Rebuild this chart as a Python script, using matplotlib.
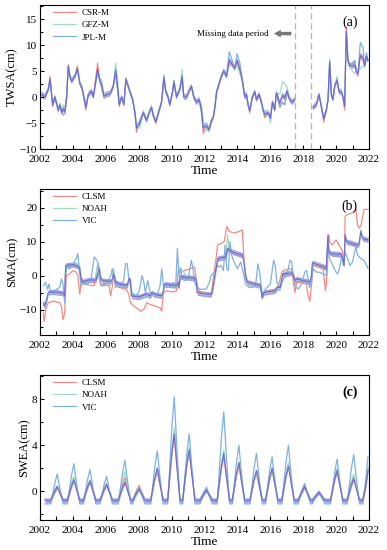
import numpy as np
import matplotlib
matplotlib.use("Agg")
import matplotlib.pyplot as plt
from matplotlib.ticker import MultipleLocator

plt.rcParams['font.family'] = ['Liberation Serif', 'DejaVu Serif']

# ---------------- Panel (a) TWSA ----------------
t_a = [2002.10, 2002.30, 2002.51, 2002.61, 2002.77, 2002.91, 2003.11, 2003.21, 2003.32, 2003.42,
       2003.52, 2003.62, 2003.72, 2003.82, 2003.92, 2004.13, 2004.27, 2004.43, 2004.53, 2004.63,
       2004.79, 2004.94, 2005.14, 2005.24, 2005.50, 2005.64, 2005.74, 2005.89, 2006.05, 2006.25,
       2006.45, 2006.60, 2006.70, 2006.82, 2006.96, 2007.10, 2007.22, 2007.47, 2007.63, 2007.77,
       2007.87, 2008.07, 2008.28, 2008.48, 2008.64, 2008.78, 2008.88, 2009.04, 2009.25, 2009.39,
       2009.53, 2009.65, 2009.79, 2009.89, 2010.06, 2010.14, 2010.30, 2010.50, 2010.64, 2010.74,
       2010.91, 2011.11, 2011.21, 2011.35, 2011.51, 2011.68, 2011.82, 2011.92, 2012.12, 2012.28,
       2012.43, 2012.53, 2012.63, 2012.73, 2012.83, 2013.03, 2013.17, 2013.34, 2013.50, 2013.64,
       2013.84, 2013.98, 2014.15, 2014.31, 2014.45, 2014.55, 2014.65, 2014.75, 2014.91, 2015.06,
       2015.16, 2015.32, 2015.46, 2015.56, 2015.66, 2015.87, 2016.01, 2016.13, 2016.27, 2016.37,
       2016.58, 2016.74, 2016.88, 2017.02, 2017.18, 2017.34, 2017.49, 2018.00, 2018.60, 2018.80,
       2018.96, 2019.11, 2019.25, 2019.41, 2019.51, 2019.61, 2019.71, 2019.81, 2019.91, 2020.06,
       2020.18, 2020.32, 2020.42, 2020.52, 2020.62, 2020.72, 2020.83, 2020.99, 2021.13, 2021.23,
       2021.33, 2021.47, 2021.64, 2021.74, 2021.84, 2021.94]
nan = np.nan
csr_m = [0.5, 0.0, 1.5, 4.0, -1.8, 0.0, -2.5, -1.5, -3.2, -2.0,
         -3.2, 0.0, 6.2, 4.0, 3.0, 4.0, 6.0, 2.5, 2.0, 0.5,
         -2.5, 0.5, 1.2, 0.0, 6.5, 3.0, 1.8, 0.0, 0.5, 0.5,
         2.0, 4.5, 1.8, -1.8, 0.0, -1.5, 3.6, 1.0, -0.5, -3.0,
         -6.8, -4.5, -3.0, -4.5, -3.0, -2.0, -3.5, -5.0, -2.5, -1.0,
         3.8, 1.0, 0.0, -1.5, 1.0, 3.0, 0.0, 1.5, 3.5, 0.0,
         0.0, 1.5, 2.2, 0.0, -1.0, -0.5, -3.0, -7.0, -5.5, -6.2,
         -4.5, -4.0, -2.0, 1.0, 2.0, 4.0, 5.0, 4.0, 6.5, 6.0,
         5.5, 6.8, 5.0, 3.0, 0.0, 0.5, -1.5, -3.0, 0.0, 1.0,
         -0.5, 0.5, -1.0, -2.5, -4.0, -3.0, -3.5, -1.0, -2.5, 0.8,
         -2.0, -1.0, -1.5, 0.8, -0.5, -1.0, -0.5, nan, -2.0, -1.5,
         0.5, -2.0, -4.8, -2.5, -0.5, 6.5, 0.5, -0.5, 2.0, 3.0,
         1.0, 1.0, 0.0, -2.5, 13.5, 7.0, 6.0, 6.5, 7.0, 5.0,
         4.0, 8.0, 7.0, 6.0, 7.5, 7.0]
gfz_m = [0.5, 0.0, 1.5, 3.0, -1.2, 0.0, -2.2, -1.5, -2.5, -1.5,
         -2.0, 0.0, 5.5, 4.0, 3.2, 4.0, 5.0, 2.5, 2.0, 0.8,
         -1.5, 0.5, 1.0, 0.0, 4.5, 3.5, 3.5, 0.5, 0.5, 0.8,
         2.0, 6.5, 4.0, -1.0, 0.0, -1.2, 3.2, 1.0, -0.5, -2.8,
         -5.0, -6.0, -3.0, -4.5, -3.0, -2.0, -3.5, -4.5, -2.5, -1.0,
         3.0, 1.0, 0.0, -1.5, 1.0, 2.5, 0.0, 1.5, 5.3, 0.0,
         0.0, 1.5, 1.8, 0.0, -1.0, -0.5, -1.5, -4.5, -6.5, -6.0,
         -4.5, -4.0, -2.0, 0.5, 2.0, 4.0, 5.0, 4.0, 6.0, 6.0,
         5.5, 6.0, 4.5, 3.0, 0.0, 0.5, -1.5, -2.5, 0.0, 1.0,
         -0.5, 0.5, -1.0, -2.5, -2.5, -3.0, -5.0, -1.0, -2.5, 0.8,
         0.5, 3.0, 2.5, 2.0, -0.5, -1.0, -0.5, nan, -2.0, -1.5,
         0.5, -2.0, -3.8, -2.5, -0.5, 7.5, 0.5, -0.5, 2.0, 4.0,
         1.0, 1.0, 0.0, -1.5, 12.0, 7.0, 6.0, 5.0, 4.5, 5.0,
         5.0, 5.5, 6.0, 6.0, 7.5, 7.0]
jpl_m = [0.5, 0.0, 1.5, 3.5, -1.5, 0.0, -2.8, -1.5, -3.0, -3.5,
         -3.0, 0.0, 6.0, 4.0, 3.0, 4.0, 5.5, 2.5, 2.0, 0.5,
         -2.0, 0.5, 1.0, 0.0, 5.0, 3.0, 2.0, 0.0, 0.5, 0.5,
         2.0, 4.5, 2.0, -1.5, 0.0, -1.5, 3.5, 1.0, -0.5, -3.0,
         -6.0, -4.5, -3.0, -4.5, -3.0, -2.0, -3.5, -4.8, -2.5, -1.0,
         4.2, 1.0, 0.0, -1.5, 1.0, 3.2, 0.0, 1.5, 3.5, 0.0,
         0.0, 1.5, 2.0, 0.0, -1.0, -0.5, -3.0, -6.0, -5.0, -6.5,
         -4.5, -4.0, -2.0, 1.0, 2.0, 4.0, 5.0, 4.0, 8.7, 7.5,
         5.5, 8.3, 6.5, 3.0, 0.0, 0.5, -1.5, -2.5, 0.0, 1.0,
         -0.5, 0.5, -1.0, -2.5, -3.5, -3.0, -4.0, -1.0, -2.5, 0.8,
         -2.0, -1.0, -1.5, 0.8, -0.5, -1.0, -0.5, nan, -2.0, -1.5,
         0.5, -2.0, -4.0, -2.5, -0.5, 6.5, 0.5, -0.5, 2.0, 3.0,
         1.0, 1.0, 0.0, -1.5, 12.5, 7.0, 6.0, 6.5, 7.0, 5.0,
         4.5, 10.5, 9.5, 6.0, 8.5, 7.0]
twsa_unc = 0.6
missing_start, missing_end = 2017.52, 2018.50

# ---------------- Panel (b) SMA ----------------
t_ens_b = [2002.20, 2002.28, 2002.38, 2002.50, 2002.70, 2003.00, 2003.40, 2003.50, 2003.56, 2003.80,
           2004.00, 2004.30, 2004.42, 2004.50, 2004.60, 2004.80, 2005.00, 2005.40, 2005.50, 2005.60,
           2005.70, 2005.80, 2006.30, 2006.40, 2006.48, 2006.60, 2006.80, 2007.30, 2007.40, 2007.50,
           2007.56, 2008.00, 2008.50, 2008.70, 2008.80, 2008.90, 2009.40, 2009.50, 2009.56, 2010.00,
           2010.30, 2010.40, 2010.45, 2010.52, 2011.00, 2011.40, 2011.50, 2011.56, 2012.00, 2012.40,
           2012.50, 2012.60, 2012.70, 2012.80, 2013.00, 2013.30, 2013.40, 2013.50, 2013.70, 2014.00,
           2014.30, 2014.40, 2014.50, 2014.60, 2015.00, 2015.40, 2015.50, 2015.60, 2016.00, 2016.30,
           2016.40, 2016.60, 2016.70, 2016.76, 2017.00, 2017.30, 2017.40, 2017.50, 2017.60, 2018.00,
           2018.30, 2018.40, 2018.50, 2018.56, 2019.00, 2019.30, 2019.40, 2019.50, 2019.56, 2019.70,
           2020.30, 2020.40, 2020.48, 2020.55, 2020.62, 2021.00, 2021.30, 2021.40, 2021.50, 2021.60,
           2021.95]
ens_b = [-8.0, -9.0, -7.5, -5.0, -4.8, -4.9, -5.2, -6.0, 3.0, 3.1,
         3.3, 2.8, 2.0, -1.0, -2.0, -1.5, -1.3, -1.3, 0.5, 2.0,
         -1.0, -1.5, -1.8, -1.0, 0.5, -2.0, -2.5, -3.0, -1.0, -1.5,
         -6.0, -6.3, -5.5, -6.0, -5.0, -5.5, -6.0, -4.5, -2.5, -2.8,
         -3.0, -2.0, -3.5, -0.3, -0.6, -0.8, -1.5, -5.0, -5.4, -5.6,
         -4.0, -1.0, 2.0, 5.0, 5.2, 5.5, 8.0, 7.5, 7.0, 6.5,
         6.0, 4.0, 0.0, -2.0, -2.5, -3.0, -6.5, -5.0, -4.7, -4.5,
         -3.5, -3.5, -1.0, 0.5, 0.6, 0.8, 0.0, -1.5, -1.0, -1.5,
         -1.8, -2.0, 0.0, 3.8, 3.0, 2.5, 2.0, 12.0, 7.0, 6.5,
         6.2, 5.0, 3.0, 12.0, 10.0, 9.5, 9.0, 9.5, 13.0, 11.0,
         10.5]
noah = [-8.5, -9.5, -7.0, -5.5, -5.0, -5.0, -5.5, -6.5, 2.5, 3.0,
        3.5, 3.0, 2.0, -1.5, -2.5, -1.5, -1.5, -1.0, 3.5, 2.5,
        -1.0, -1.8, -2.0, -1.0, 2.0, -2.2, -2.8, -3.2, -1.0, -2.0,
        -6.2, -6.5, -5.8, -6.2, -5.0, -5.8, -6.2, -4.5, -2.5, -3.0,
        -3.2, -2.0, -3.8, 2.5, -0.8, -1.0, -1.5, -5.2, -5.6, -5.8,
        -4.0, -1.0, 2.5, 5.5, 5.0, 5.5, 12.0, 8.0, 7.2, 6.8,
        6.0, 4.0, 0.0, -2.2, -2.8, -3.2, -6.8, -5.2, -5.0, -4.6,
        -3.5, -3.8, -1.0, 0.8, 0.5, 1.0, 0.0, -1.8, -1.2, -1.5,
        -2.0, -2.2, 0.0, 4.0, 3.2, 2.5, 2.0, 11.0, 7.0, 6.8,
        6.0, 5.0, 3.0, 11.0, 10.0, 9.8, 9.2, 9.5, 13.5, 11.5,
        11.0]
t_clsm_b = [2002.20, 2002.26, 2002.35, 2002.50, 2002.80, 2003.20, 2003.30, 2003.40, 2003.50, 2003.60,
            2003.80, 2004.00, 2004.20, 2004.30, 2004.42, 2004.50, 2004.70, 2005.00, 2005.30, 2005.50,
            2005.60, 2005.70, 2006.00, 2006.20, 2006.30, 2006.40, 2006.48, 2006.60, 2006.80, 2007.20,
            2007.30, 2007.40, 2007.50, 2007.70, 2008.00, 2008.10, 2008.30, 2008.50, 2008.70, 2009.00,
            2009.30, 2009.40, 2009.50, 2009.70, 2010.00, 2010.30, 2010.40, 2010.60, 2010.80, 2011.10,
            2011.40, 2011.50, 2011.60, 2011.80, 2012.20, 2012.40, 2012.50, 2012.70, 2012.80, 2013.00,
            2013.20, 2013.35, 2013.50, 2013.80, 2014.10, 2014.30, 2014.40, 2014.50, 2014.60, 2015.00,
            2015.30, 2015.40, 2015.50, 2015.60, 2016.00, 2016.30, 2016.50, 2016.70, 2016.80, 2017.00,
            2017.30, 2017.40, 2017.50, 2017.60, 2017.80, 2018.20, 2018.30, 2018.40, 2018.50, 2018.60,
            2018.80, 2019.20, 2019.30, 2019.35, 2019.45, 2019.55, 2019.60, 2019.75, 2020.00, 2020.30,
            2020.40, 2020.50, 2020.55, 2020.70, 2021.00, 2021.20, 2021.30, 2021.40, 2021.50, 2021.60,
            2021.70, 2021.95]
clsm_b = [-11.0, -13.5, -10.0, -8.0, -7.5, -8.0, -9.0, -13.0, -11.0, 0.0,
          0.5, 1.5, 1.0, 0.0, -5.5, -2.0, -2.5, -2.8, -3.0, 3.0,
          1.0, -2.5, -2.8, -3.0, -6.0, -3.0, 1.5, -3.0, -3.5, -4.0,
          -4.5, -5.5, -8.0, -9.0, -10.0, -10.5, -10.0, -8.0, -8.5, -9.0,
          -9.5, -10.5, -5.0, -4.5, -4.8, -4.5, 1.5, 1.0, 1.5, 2.0,
          2.5, -1.0, -4.0, -5.0, -5.5, -6.0, -2.0, 5.0, 9.0, 9.5,
          10.0, 14.5, 13.0, 12.5, 13.0, 13.5, 5.0, -1.0, -2.0, -2.5,
          -3.0, -2.5, -6.0, -5.0, -4.5, -4.0, -3.0, 1.0, 1.5, 1.8,
          2.0, -2.0, -5.0, -2.0, -2.0, -2.5, -6.0, -7.5, -3.0, 3.0,
          3.0, 2.0, -2.0, -4.5, 0.0, 12.0, 10.0, 9.0, 10.5, 8.0,
          7.0, 3.0, 17.5, 18.0, 18.5, 19.5, 15.0, 14.0, 14.5, 17.0,
          19.5, 19.5]
t_vic_b = [2002.20, 2002.35, 2002.45, 2002.55, 2002.65, 2002.80, 2003.00, 2003.20, 2003.30, 2003.40,
           2003.50, 2003.55, 2003.65, 2003.80, 2004.00, 2004.20, 2004.30, 2004.40, 2004.50, 2004.60,
           2004.70, 2004.90, 2005.10, 2005.30, 2005.45, 2005.55, 2005.60, 2005.70, 2005.90, 2006.10,
           2006.30, 2006.40, 2006.50, 2006.60, 2006.80, 2006.90, 2007.10, 2007.20, 2007.30, 2007.40,
           2007.50, 2007.60, 2007.80, 2008.00, 2008.10, 2008.20, 2008.30, 2008.40, 2008.55, 2008.70,
           2008.90, 2009.10, 2009.30, 2009.40, 2009.50, 2009.70, 2009.90, 2010.10, 2010.25, 2010.35,
           2010.45, 2010.55, 2010.65, 2010.80, 2011.00, 2011.20, 2011.30, 2011.40, 2011.50, 2011.70,
           2011.90, 2012.10, 2012.30, 2012.40, 2012.60, 2012.80, 2012.90, 2013.00, 2013.15, 2013.25,
           2013.35, 2013.45, 2013.55, 2013.65, 2013.80, 2014.00, 2014.20, 2014.30, 2014.40, 2014.50,
           2014.70, 2014.90, 2015.10, 2015.25, 2015.35, 2015.45, 2015.55, 2015.70, 2015.90, 2016.00,
           2016.20, 2016.30, 2016.40, 2016.60, 2016.80, 2017.00, 2017.20, 2017.30, 2017.40, 2017.50,
           2017.70, 2017.90, 2018.10, 2018.20, 2018.30, 2018.40, 2018.50, 2018.60, 2018.80, 2019.00,
           2019.20, 2019.40, 2019.50, 2019.60, 2019.80, 2020.00, 2020.10, 2020.20, 2020.35, 2020.45,
           2020.55, 2020.70, 2020.85, 2021.00, 2021.20, 2021.30, 2021.50, 2021.70, 2021.95]
vic_b = [-3.0, -2.0, -4.0, -2.5, -5.0, -5.0, -4.0, -3.5, -1.0, -2.5,
         -8.0, 0.0, 3.0, 2.0, 3.0, 5.0, 6.5, 1.0, -3.0, -1.0,
         -2.5, -2.5, -1.0, 5.5, 4.5, 3.5, -1.0, -3.0, -3.0, -2.0,
         0.0, 2.0, -1.0, -3.5, -2.0, -3.5, -1.0, 3.5, 3.5, -1.0,
         -3.0, -5.0, -6.0, -5.0, -3.0, 0.0, -1.5, -5.0, -1.5, -5.0,
         -5.0, -6.0, -3.0, 2.0, -3.0, -3.5, -3.0, -2.0, -3.0, 8.0,
         0.0, 2.0, -1.0, -1.5, -1.0, 4.5, 2.0, -2.0, -3.0, -4.0,
         -4.0, -4.0, -2.0, 0.0, 1.0, 3.0, 2.5, 3.0, 1.5, 9.0,
         2.0, 1.5, 10.0, 6.0, 4.0, 2.0, 4.0, 2.0, 0.0, -2.5,
         -3.5, -3.5, -3.0, 3.5, 1.0, -3.0, -6.0, -4.0, -3.0, -2.5,
         4.5, 3.0, -2.0, -3.5, -1.0, 0.0, 4.5, 4.0, 0.0, -3.0,
         -4.0, -2.5, 1.0, 1.5, -1.0, -3.5, -2.0, 2.0, 1.0, 1.0,
         0.5, 0.0, 8.0, 5.0, 3.0, 1.0, 0.5, 2.0, 6.0, 3.0,
         7.0, 5.0, 3.0, 4.0, 8.5, 6.0, 5.0, 4.5, 2.0]
sma_unc = 0.8

# ---------------- Panel (c) SWEA ----------------
t_c = [2002.30,
       2002.65, 2002.90, 2003.05, 2003.20, 2003.40,
       2003.66, 2003.91, 2004.06, 2004.21, 2004.41,
       2004.64, 2004.89, 2005.04, 2005.19, 2005.39,
       2005.65, 2005.90, 2006.05, 2006.20, 2006.40,
       2006.76, 2007.01, 2007.16, 2007.31, 2007.51,
       2007.63, 2007.88, 2008.03, 2008.18, 2008.38,
       2008.73, 2008.98, 2009.13, 2009.28, 2009.48,
       2009.76, 2010.01, 2010.16, 2010.31, 2010.51,
       2010.67, 2010.92, 2011.07, 2011.22, 2011.42,
       2011.72, 2011.97, 2012.12, 2012.27, 2012.47,
       2012.77, 2013.02, 2013.17, 2013.32, 2013.52,
       2013.69, 2013.94, 2014.09, 2014.24, 2014.44,
       2014.76, 2015.01, 2015.16, 2015.31, 2015.51,
       2015.71, 2015.96, 2016.11, 2016.26, 2016.46,
       2016.70, 2016.95, 2017.10, 2017.25, 2017.45,
       2017.69, 2017.94, 2018.09, 2018.24, 2018.44,
       2018.56, 2018.81, 2018.96, 2019.11, 2019.31,
       2019.66, 2019.91, 2020.06, 2020.21, 2020.41,
       2020.67, 2020.92, 2021.07, 2021.22, 2021.42,
       2021.62, 2021.80, 2021.94]
vic_c = [-1.1,
         -1.1, 0.7, 1.5, 0.3, -1.1,
         -1.1, 1.35, 2.4, 0.8, -1.1,
         -1.1, 1.0, 1.9, 0.55, -1.1,
         -1.1, 0.6, 1.3, 0.2, -1.1,
         -1.1, 1.55, 2.7, 1.0, -1.1,
         -1.1, -0.1, 0.3, -0.35, -1.1,
         -1.1, 2.1, 3.5, 1.4, -1.1,
         -1.1, 5.4, 8.2, 4.0, -1.1,
         -1.1, 3.2, 5.0, 2.3, -1.1,
         -1.1, -0.1, 0.35, -0.3, -1.1,
         -1.1, 4.5, 6.9, 3.3, -1.1,
         -1.1, 2.5, 4.0, 1.7, -1.1,
         -1.1, 2.0, 3.3, 1.3, -1.1,
         -1.1, 1.8, 3.0, 1.15, -1.1,
         -1.1, 2.5, 4.0, 1.7, -1.1,
         -1.1, 0.15, 0.7, -0.1, -1.1,
         -1.1, -0.35, 0.0, -0.5, -1.1,
         -1.1, 1.6, 2.8, 1.05, -1.1,
         -1.1, 1.9, 3.2, 1.25, -1.1,
         -1.1, 1.0, 3.0]
noah_c = [-0.7,
          -0.7, 0.15, 0.5, -0.05, -0.7,
          -0.7, 0.7, 1.3, 0.4, -0.7,
          -0.7, 0.5, 1.0, 0.25, -0.7,
          -0.7, 0.3, 0.7, 0.05, -0.7,
          -0.7, 1.0, 1.7, 0.6, -0.7,
          -0.7, 0.0, 0.3, -0.15, -0.7,
          -0.7, 1.2, 2.0, 0.8, -0.7,
          -0.7, 3.6, 5.5, 2.7, -0.7,
          -0.7, 2.45, 3.8, 1.8, -0.7,
          -0.7, -0.05, 0.2, -0.2, -0.7,
          -0.7, 2.3, 3.6, 1.65, -0.7,
          -0.7, 1.55, 2.5, 1.05, -0.7,
          -0.7, 1.05, 1.8, 0.65, -0.7,
          -0.7, 1.2, 2.0, 0.8, -0.7,
          -0.7, 1.55, 2.5, 1.05, -0.7,
          -0.7, 0.15, 0.5, -0.05, -0.7,
          -0.7, -0.3, -0.1, -0.35, -0.7,
          -0.7, 1.2, 2.0, 0.8, -0.7,
          -0.7, 0.85, 1.5, 0.5, -0.7,
          -0.7, 0.6, 2.2]
clsm_c = [-0.72,
          -0.72, 0.0, 0.3, -0.15, -0.72,
          -0.72, 0.55, 1.1, 0.28, -0.72,
          -0.72, 0.35, 0.8, 0.12, -0.72,
          -0.72, 0.2, 0.6, 0.0, -0.72,
          -0.72, 0.6, 1.2, 0.35, -0.72,
          -0.72, 0.13, 0.5, -0.05, -0.72,
          -0.72, 0.97, 1.7, 0.6, -0.72,
          -0.72, 3.15, 4.8, 2.3, -0.72,
          -0.72, 2.25, 3.5, 1.6, -0.72,
          -0.72, -0.07, 0.2, -0.2, -0.72,
          -0.72, 1.9, 3.0, 1.3, -0.72,
          -0.72, 1.3, 2.2, 0.9, -0.72,
          -0.72, 0.9, 1.6, 0.55, -0.72,
          -0.72, 1.1, 1.9, 0.72, -0.72,
          -0.72, 1.4, 2.3, 0.95, -0.72,
          -0.72, 0.0, 0.3, -0.15, -0.72,
          -0.72, -0.29, -0.1, -0.38, -0.72,
          -0.72, 1.05, 1.8, 0.67, -0.72,
          -0.72, 0.7, 1.3, 0.39, -0.72,
          -0.72, 0.5, 2.0]
ens_c = [-0.78,
         -0.78, 0.05, 0.4, -0.13, -0.78,
         -0.78, 0.47, 1.0, 0.2, -0.78,
         -0.78, 0.4, 0.9, 0.14, -0.78,
         -0.78, 0.19, 0.6, -0.02, -0.78,
         -0.78, 0.33, 0.8, 0.09, -0.78,
         -0.78, -0.09, 0.2, -0.24, -0.78,
         -0.78, 1.17, 2.0, 0.75, -0.78,
         -0.78, 3.27, 5.0, 2.4, -0.78,
         -0.78, 2.29, 3.6, 1.63, -0.78,
         -0.78, -0.16, 0.1, -0.3, -0.78,
         -0.78, 2.08, 3.3, 1.46, -0.78,
         -0.78, 1.52, 2.5, 1.02, -0.78,
         -0.78, 1.03, 1.8, 0.64, -0.78,
         -0.78, 1.17, 2.0, 0.75, -0.78,
         -0.78, 1.31, 2.2, 0.86, -0.78,
         -0.78, 0.05, 0.4, -0.13, -0.78,
         -0.78, -0.3, -0.1, -0.41, -0.78,
         -0.78, 1.03, 1.8, 0.64, -0.78,
         -0.78, 0.54, 1.1, 0.25, -0.78,
         -0.78, 0.4, 1.8]
swea_unc = 0.2

# ---------------- styling ----------------
C_RED = '#f28b82'
C_GREEN = '#a3dcc2'
C_BLUE = '#7fb2e0'
C_PURPLE = '#6a5fcf'
LW = 0.9

fig = plt.figure(figsize=(3.87, 5.50), dpi=100)
L, R = 40 / 387, 369 / 387
def mk_ax(top_px, bot_px):
    return fig.add_axes([L, 1 - bot_px / 550, R - L, (bot_px - top_px) / 550])

ax_a = mk_ax(5, 149)
ax_b = mk_ax(189, 335)
ax_c = mk_ax(375, 520)

def style(ax, ylo, yhi, major, minor, ylabel, tag, bold=False):
    ax.set_xlim(2002, 2022)
    ax.set_ylim(ylo, yhi)
    ax.xaxis.set_major_locator(MultipleLocator(2))
    ax.xaxis.set_minor_locator(MultipleLocator(1))
    ax.yaxis.set_major_locator(MultipleLocator(major))
    ax.yaxis.set_minor_locator(MultipleLocator(minor))
    ax.tick_params(which='both', direction='in', top=False, right=False, labelsize=8,
                   width=0.8)
    ax.tick_params(axis='x', which='major', pad=4)
    ax.tick_params(axis='y', which='major', pad=2)
    ax.tick_params(which='major', length=3)
    ax.tick_params(which='minor', length=2)
    ax.tick_params(axis='x', which='minor', length=3)
    for s in ax.spines.values():
        s.set_linewidth(0.8)
    ax.set_xlabel('Time', fontsize=9.5, labelpad=1)
    ax.set_ylabel(ylabel, fontsize=9, labelpad=1)
    ax.text(0.965, 0.93, tag, transform=ax.transAxes, ha='right', va='top',
            fontsize=10, fontweight='bold' if bold else 'normal')

def legend(ax, handles, labels):
    ax.legend(handles, labels, loc='upper left', bbox_to_anchor=(0.02, 1.02), frameon=False,
              fontsize=6.5, handlelength=2.6, handletextpad=0.6, labelspacing=0.45,
              borderaxespad=0.3)

# Panel (a)
ta = np.array(t_a)
A = np.vstack([csr_m, gfz_m, jpl_m])
ens_a = np.mean(A, axis=0)
h1, = ax_a.plot(ta, csr_m, color=C_RED, lw=LW)
h2, = ax_a.plot(ta, gfz_m, color=C_GREEN, lw=LW)
h3, = ax_a.plot(ta, jpl_m, color=C_BLUE, lw=LW)
ax_a.fill_between(ta, ens_a - twsa_unc, ens_a + twsa_unc, color=C_PURPLE, alpha=0.5, lw=0)
ax_a.plot(ta, ens_a, color=C_PURPLE, lw=0.8, alpha=0.9)
for xv in (missing_start, missing_end):
    ax_a.axvline(xv, color='#b5b5b5', lw=0.9, ls=(0, (5, 3)))
ax_a.text(2013.7, 12.2, 'Missing data period', fontsize=6.5, ha='center', va='center')
ax_a.annotate('', xy=(2016.05, 12.2), xytext=(2017.45, 12.2),
              arrowprops=dict(arrowstyle='simple,head_width=0.55,head_length=0.5,tail_width=0.25',
                              color='#777777', lw=0))
style(ax_a, -10, 17.7, 5, 2.5, 'TWSA(cm)', '(a)')
legend(ax_a, [h1, h2, h3], ['CSR-M', 'GFZ-M', 'JPL-M'])

# Panel (b)
g1, = ax_b.plot(t_clsm_b, clsm_b, color=C_RED, lw=LW)
g2, = ax_b.plot(t_ens_b, noah, color=C_GREEN, lw=LW)
g3, = ax_b.plot(t_vic_b, vic_b, color=C_BLUE, lw=LW)
eb = np.array(ens_b)
ax_b.fill_between(t_ens_b, eb - sma_unc, eb + sma_unc, color=C_PURPLE, alpha=0.6, lw=0)
ax_b.plot(t_ens_b, eb, color=C_PURPLE, lw=0.8, alpha=0.9)
style(ax_b, -17.5, 25.5, 10, 5, 'SMA(cm)', '(b)')
legend(ax_b, [g1, g2, g3], ['CLSM', 'NOAH', 'VIC'])

# Panel (c)
k1, = ax_c.plot(t_c, clsm_c, color=C_RED, lw=LW)
k2, = ax_c.plot(t_c, noah_c, color=C_GREEN, lw=LW)
k3, = ax_c.plot(t_c, vic_c, color=C_BLUE, lw=LW)
ec = np.array(ens_c)
ax_c.fill_between(t_c, ec - swea_unc, ec + swea_unc, color=C_PURPLE, alpha=0.6, lw=0)
ax_c.plot(t_c, ec, color=C_PURPLE, lw=0.8, alpha=0.9)
style(ax_c, -2.5, 10.1, 4, 2, 'SWEA(cm)', '(c)', bold=True)
legend(ax_c, [k1, k2, k3], ['CLSM', 'NOAH', 'VIC'])

fig.savefig('out.png', dpi=100)
